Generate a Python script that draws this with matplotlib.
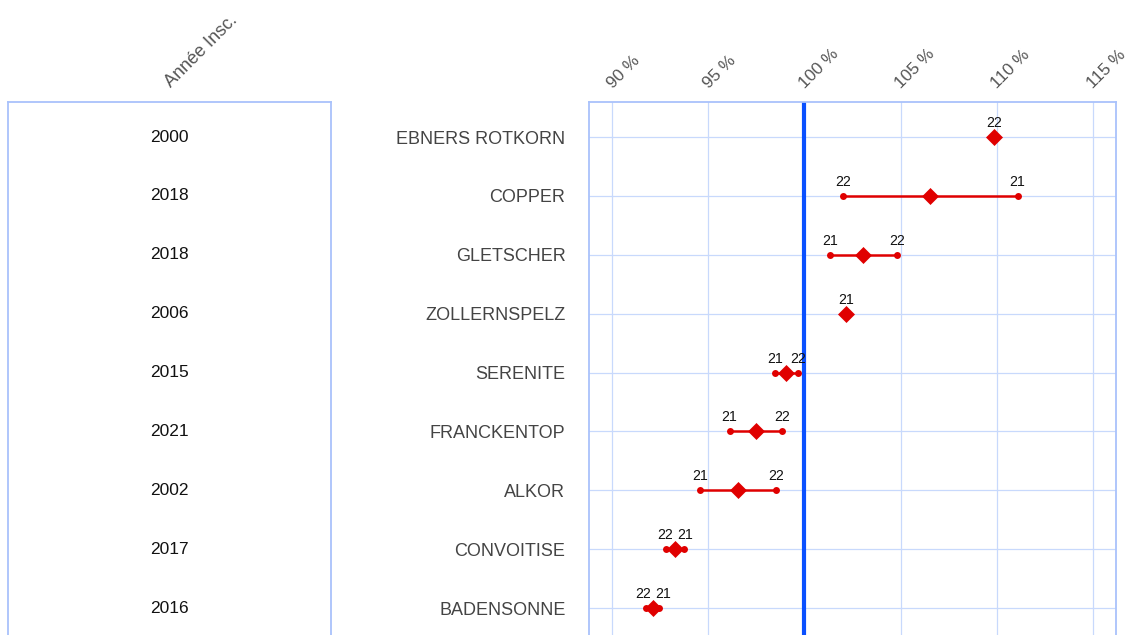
import matplotlib
matplotlib.use("Agg")
import matplotlib.pyplot as plt
import matplotlib.transforms as mtransforms

plt.rcParams['font.family'] = ['Liberation Sans', 'DejaVu Sans']

# ---- data ----
varietes = ["EBNERS ROTKORN", "COPPER", "GLETSCHER", "ZOLLERNSPELZ", "SERENITE",
            "FRANCKENTOP", "ALKOR", "CONVOITISE", "BADENSONNE"]
annees = [2000, 2018, 2018, 2006, 2015, 2021, 2002, 2017, 2016]
val_21 = [None, 111.1, 101.35, 102.15, 98.45, 96.1, 94.55, 93.75, 92.45]
val_22 = [109.8, 102.0, 104.8, None, 99.65, 98.85, 98.5, 92.8, 91.75]
moyenne = [109.85, 106.55, 103.07, 102.15, 99.05, 97.48, 96.52, 93.27, 92.1]
label_moy = ["22", None, None, "21", None, None, None, None, None]
ticks = [90, 95, 100, 105, 110, 115]
tick_labels = ["90 %", "95 %", "100 %", "105 %", "110 %", "115 %"]
reference = 100

# ---- styling ----
W, H = 1129, 635
frame_col = '#a9c2fb'
grid_col = '#c8d9fc'
red = '#e00000'
blue = '#0a50ff'

fig = plt.figure(figsize=(W / 100, H / 100), dpi=100)

top_px = 102
bot_px = 641
ax_h = (bot_px - top_px) / H
ax_b = (H - bot_px) / H

row0 = 137
step = 58.9
ylim = ((bot_px - row0) / step, (top_px - row0) / step)

# left panel (years)
axl = fig.add_axes([8 / W, ax_b, (331 - 8) / W, ax_h])
axl.set_xlim(0, 1)
axl.set_ylim(*ylim)
axl.set_xticks([])
axl.set_yticks([])
for s in axl.spines.values():
    s.set_color(frame_col)
    s.set_linewidth(1.3)
for i, a in enumerate(annees):
    axl.text(0.5, i, str(a), ha='center', va='center', fontsize=12.5, color='#111111')
axl.text(0.5, 1.0, "Année Insc.", transform=axl.transAxes + mtransforms.ScaledTranslation(4 / 100, 11 / 100, fig.dpi_scale_trans),
         rotation=45, rotation_mode='anchor', ha='left', va='bottom', fontsize=13, color='#555555')

# right panel
x_lo, x_hi = 88.78, 116.22
ax_left_px, ax_right_px = 589, 1116
ax = fig.add_axes([ax_left_px / W, ax_b, (ax_right_px - ax_left_px) / W, ax_h])
ax.set_xlim(x_lo, x_hi)
ax.set_ylim(*ylim)
for s in ax.spines.values():
    s.set_color(frame_col)
    s.set_linewidth(1.3)
ax.set_xticks(ticks)
ax.set_xticklabels([])
ax.tick_params(axis='x', length=0)
ax.set_yticks(range(len(varietes)))
ax.set_yticklabels(varietes, fontsize=13, color='#444444')
ax.tick_params(axis='y', length=0, pad=17)
ax.grid(True, color=grid_col, linewidth=0.9)
ax.set_axisbelow(True)

off = mtransforms.ScaledTranslation(3 / 100, 10.5 / 100, fig.dpi_scale_trans)
tr = mtransforms.blended_transform_factory(ax.transData, ax.transAxes) + off
for t, lab in zip(ticks, tick_labels):
    ax.text(t, 1.0, lab, transform=tr, rotation=45, rotation_mode='anchor',
            ha='left', va='bottom', fontsize=12.3, color='#555555', clip_on=False)

ax.axvline(reference, color=blue, linewidth=3, zorder=2)

px_per_unit = (ax_right_px - ax_left_px) / (x_hi - x_lo)
min_gap = 20.0  # px between label centres
lab_dy = 7
for i in range(len(varietes)):
    a, b = val_21[i], val_22[i]
    pts = [(v, lab) for v, lab in ((a, "21"), (b, "22")) if v is not None]
    if len(pts) == 2:
        ax.plot([pts[0][0], pts[1][0]], [i, i], color=red, linewidth=1.8, zorder=3)
        pts.sort(key=lambda p: p[0])
        d = (pts[1][0] - pts[0][0]) * px_per_unit
        shift = max(0.0, (min_gap - d) / 2)
        for k, (v, lab) in enumerate(pts):
            ax.plot(v, i, 'o', color=red, markersize=5, markeredgewidth=0, zorder=4)
            dx = -shift if k == 0 else shift
            t_off = mtransforms.offset_copy(ax.transData, fig=fig, x=dx, y=lab_dy, units='dots')
            ax.text(v, i, lab, transform=t_off, ha='center', va='bottom', fontsize=10.2, color='#111111')
    ax.plot(moyenne[i], i, 'D', color=red, markersize=7.8, markeredgewidth=0.5, zorder=5)
    if label_moy[i]:
        t_off = mtransforms.offset_copy(ax.transData, fig=fig, x=0, y=lab_dy, units='dots')
        ax.text(moyenne[i], i, label_moy[i], transform=t_off, ha='center', va='bottom', fontsize=10.2, color='#111111')

fig.savefig("out.png", dpi=100)
